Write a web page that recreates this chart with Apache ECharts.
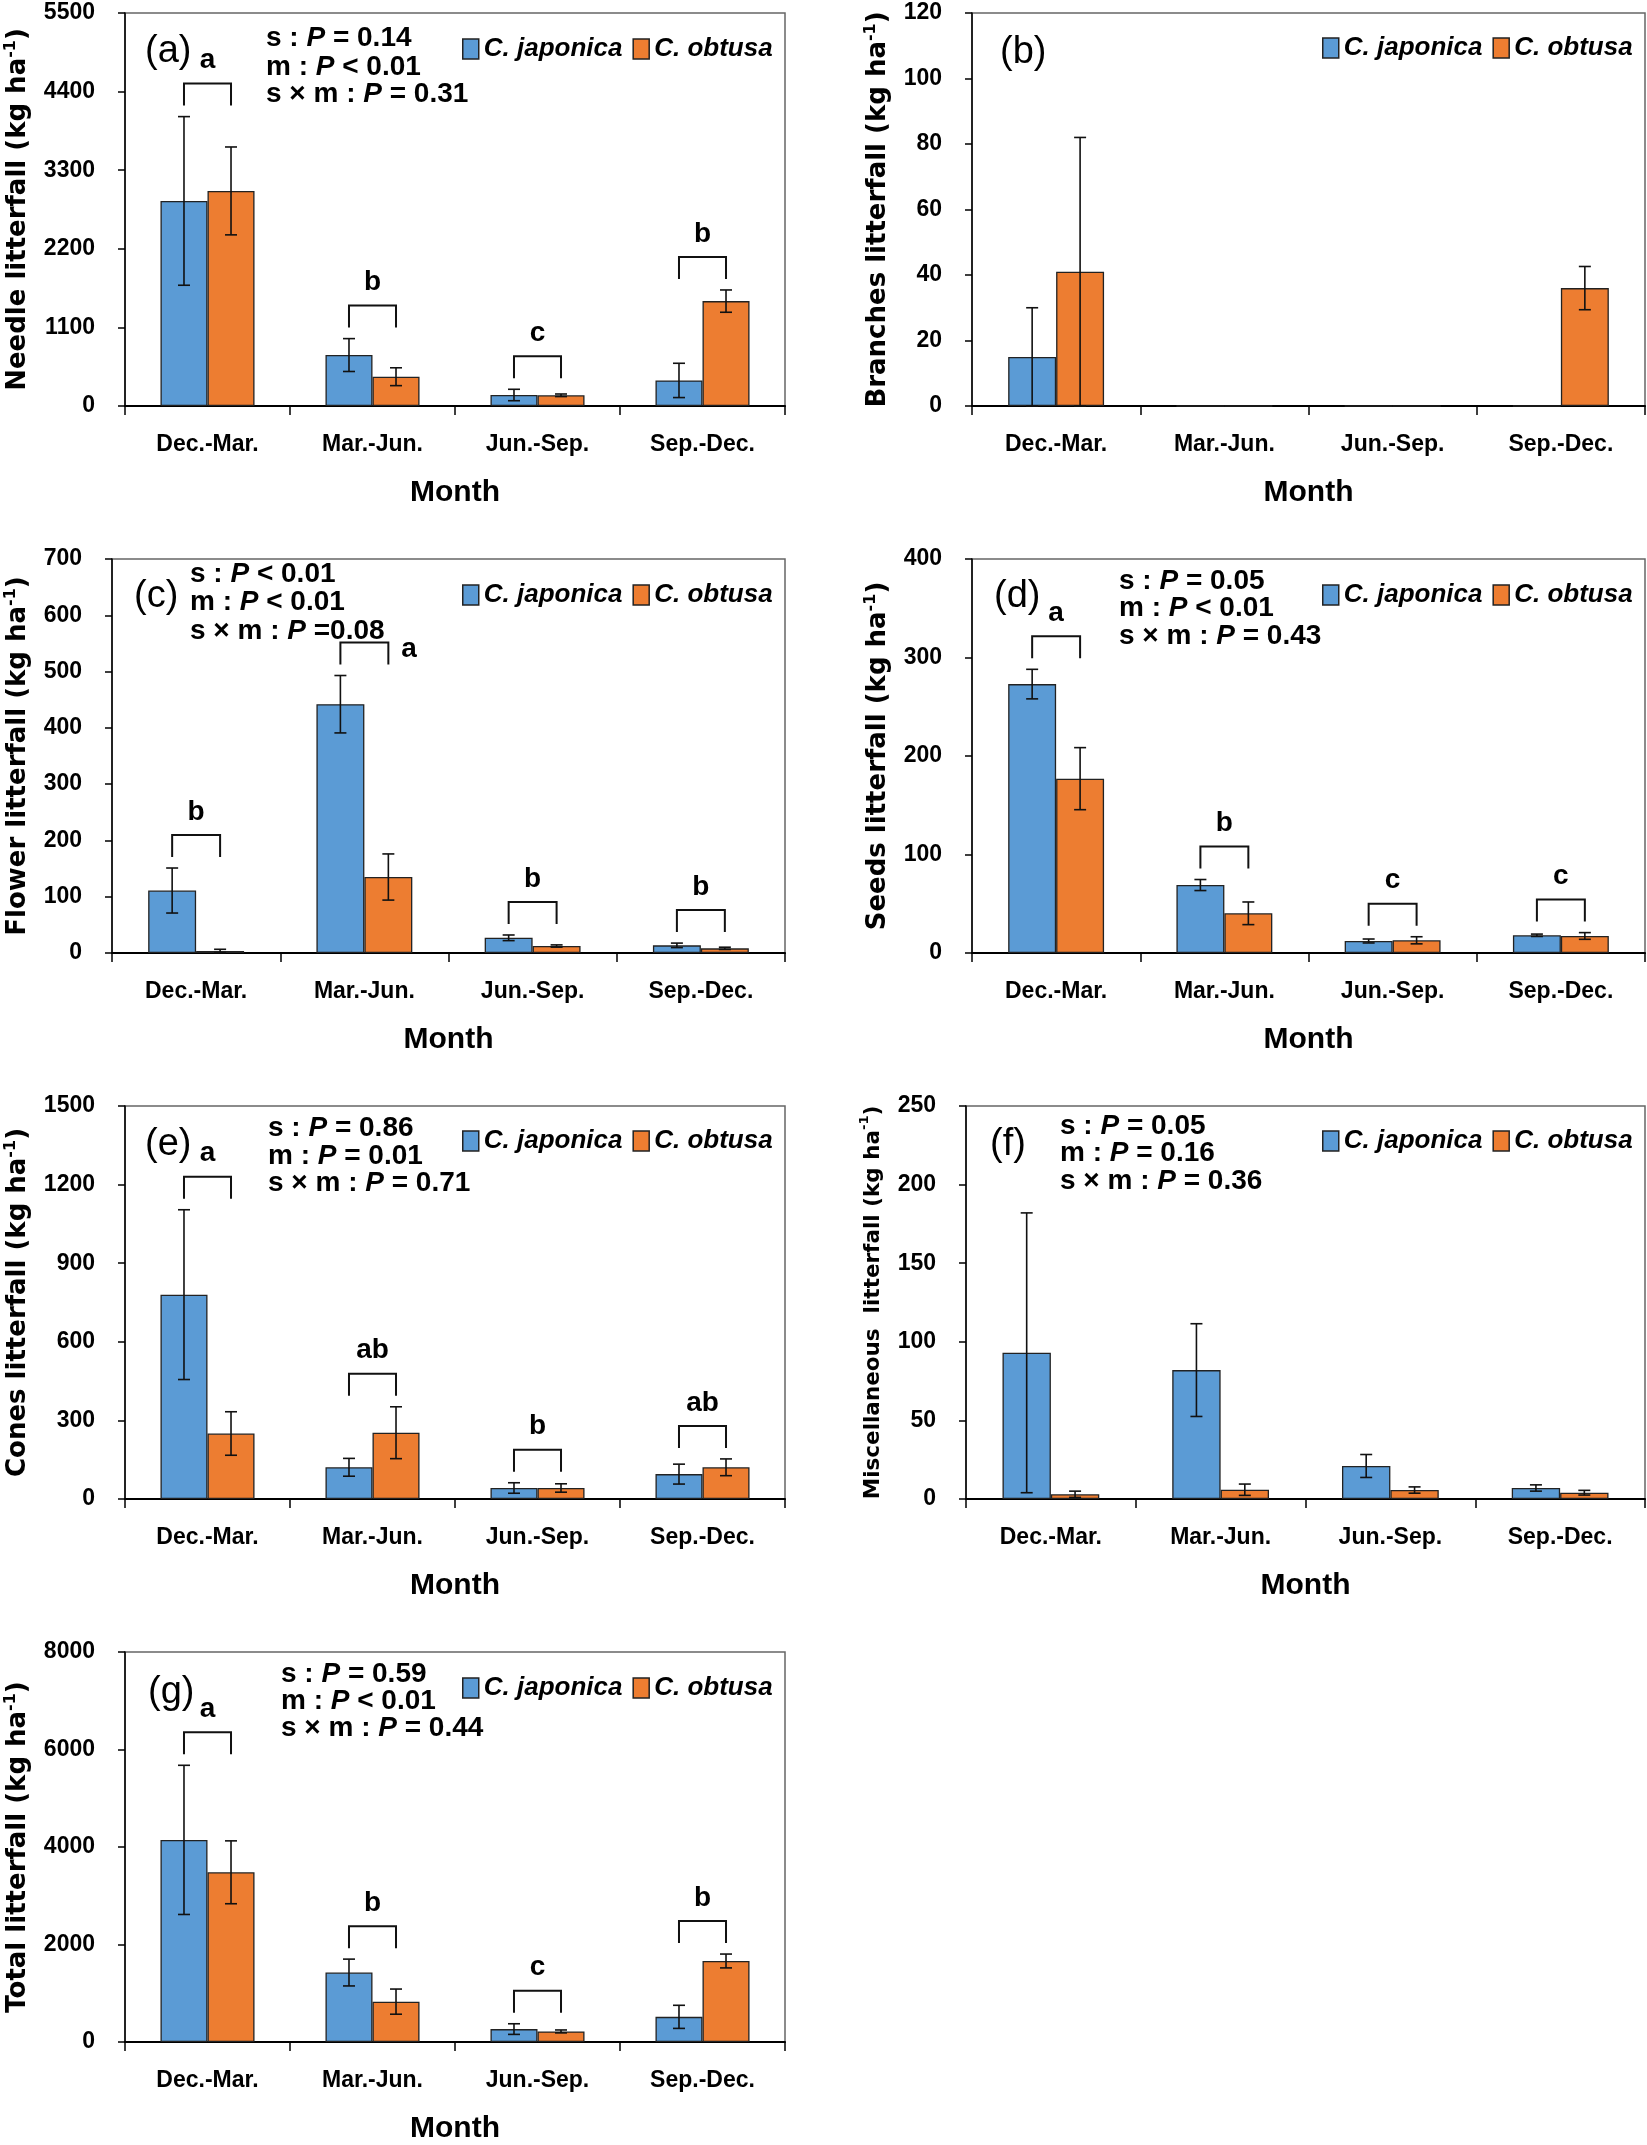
<!DOCTYPE html>
<html><head><meta charset="utf-8">
<script src="https://cdn.jsdelivr.net/npm/echarts@6/dist/echarts.min.js"></script>
<style>html,body{margin:0;padding:0;background:#fff}#c{width:1647px;height:2145px}</style>
</head><body><div id="c"></div>
<script>
// ---------- data ----------
const months = ['Dec.-Mar.', 'Mar.-Jun.', 'Jun.-Sep.', 'Sep.-Dec.'];
const species = ['C. japonica', 'C. obtusa'];

// (a) Needle litterfall
const needleJap = [2870, 713, 154, 358];
const needleJapErr = [1180, 230, 80, 240];
const needleObt = [3010, 410, 150, 1468];
const needleObtErr = [615, 125, 18, 156];
const needleLetters = ['a', 'b', 'c', 'b'];
const needleAxis = [0, 5500, 1100];
const needleStats = ['s : {i|P} = 0.14', 'm : {i|P} < 0.01', 's × m : {i|P} = 0.31'];

// (b) Branches litterfall
const branchJap = [15, 0, 0, 0];
const branchJapErr = [15, 0, 0, 0];
const branchObt = [41, 0, 0, 36];
const branchObtErr = [41, 0, 0, 6.6];
const branchLetters = [];
const branchAxis = [0, 120, 20];
const branchStats = [];

// (c) Flower litterfall
const flowerJap = [111, 442, 27, 13.6];
const flowerJapErr = [40, 51, 5, 4];
const flowerObt = [3.6, 135, 12.4, 8.3];
const flowerObtErr = [3, 41, 2, 2];
const flowerLetters = ['b', 'a', 'b', 'b'];
const flowerAxis = [0, 700, 100];
const flowerStats = ['s : {i|P} < 0.01', 'm : {i|P} < 0.01', 's × m : {i|P} =0.08'];

// (d) Seeds litterfall
const seedJap = [273, 69, 12.2, 18];
const seedJapErr = [15, 5.6, 2, 1.2];
const seedObt = [177, 40.3, 12.9, 17.3];
const seedObtErr = [31.5, 11.5, 3.6, 3.4];
const seedLetters = ['a', 'b', 'c', 'c'];
const seedAxis = [0, 400, 100];
const seedStats = ['s : {i|P} = 0.05', 'm : {i|P} < 0.01', 's × m : {i|P} = 0.43'];

// (e) Cones litterfall
const coneJap = [780, 121, 42, 95];
const coneJapErr = [324, 34, 20, 38];
const coneObt = [250, 253, 42, 121];
const coneObtErr = [83, 99, 16, 32];
const coneLetters = ['a', 'ab', 'b', 'ab'];
const coneAxis = [0, 1500, 300];
const coneStats = ['s : {i|P} = 0.86', 'm : {i|P} = 0.01', 's × m : {i|P} = 0.71'];

// (f) Miscellaneous litterfall
const miscJap = [93, 82, 21, 7];
const miscJapErr = [89, 29.5, 7.3, 2];
const miscObt = [3, 5.9, 5.7, 4];
const miscObtErr = [2, 3.6, 2, 1.5];
const miscLetters = [];
const miscAxis = [0, 250, 50];
const miscStats = ['s : {i|P} = 0.05', 'm : {i|P} = 0.16', 's × m : {i|P} = 0.36'];

// (g) Total litterfall
const totalJap = [4146, 1425, 265, 516];
const totalJapErr = [1530, 275, 109, 237];
const totalObt = [3481, 828, 217, 1662];
const totalObtErr = [645, 258, 30, 142];
const totalLetters = ['a', 'b', 'c', 'b'];
const totalAxis = [0, 8000, 2000];
const totalStats = ['s : {i|P} = 0.59', 'm : {i|P} < 0.01', 's × m : {i|P} = 0.44'];

// ---------- layout ----------
const FONT = '"Liberation Sans", Arial, sans-serif';
const NAMEFONT = '"DejaVu Sans", sans-serif';
const BLUE = '#5B9BD5', ORANGE = '#ED7D31';

const panels = [
  {tag:'(a)', name:'Needle litterfall (kg ha', jap:needleJap, japErr:needleJapErr, obt:needleObt, obtErr:needleObtErr,
   letters:needleLetters, axis:needleAxis, stats:needleStats,
   grid:{left:125, top:13, width:660, height:393}, nameGap:92, nameSize:26,
   tagPos:[145,52], statPos:[266,[38,67,94]], legPos:[462,49]},
  {tag:'(b)', name:'Branches litterfall (kg ha', jap:branchJap, japErr:branchJapErr, obt:branchObt, obtErr:branchObtErr,
   letters:branchLetters, axis:branchAxis, stats:branchStats,
   grid:{left:972, top:13, width:673, height:393}, nameGap:79, nameSize:26,
   tagPos:[1000,53], statPos:[0,[]], legPos:[1322,48]},
  {tag:'(c)', name:'Flower litterfall (kg ha', jap:flowerJap, japErr:flowerJapErr, obt:flowerObt, obtErr:flowerObtErr,
   letters:flowerLetters, letterPos:['top','right','top','top'], axis:flowerAxis, stats:flowerStats,
   grid:{left:112, top:559, width:673, height:394}, nameGap:79, nameSize:26,
   tagPos:[134,597], statPos:[190,[574,602,631]], legPos:[462,595]},
  {tag:'(d)', name:'Seeds litterfall (kg ha', jap:seedJap, japErr:seedJapErr, obt:seedObt, obtErr:seedObtErr,
   letters:seedLetters, axis:seedAxis, stats:seedStats,
   grid:{left:972, top:559, width:673, height:394}, nameGap:79, nameSize:26,
   tagPos:[994,597], statPos:[1119,[581,608,636]], legPos:[1322,595]},
  {tag:'(e)', name:'Cones litterfall (kg ha', jap:coneJap, japErr:coneJapErr, obt:coneObt, obtErr:coneObtErr,
   letters:coneLetters, axis:coneAxis, stats:coneStats,
   grid:{left:125, top:1106, width:660, height:393}, nameGap:92, nameSize:26,
   tagPos:[145,1145], statPos:[268,[1128,1156,1183]], legPos:[462,1141]},
  {tag:'(f)', name:'Miscellaneous  litterfall (kg ha', jap:miscJap, japErr:miscJapErr, obt:miscObt, obtErr:miscObtErr,
   letters:miscLetters, axis:miscAxis, stats:miscStats,
   grid:{left:966, top:1106, width:679, height:393}, nameGap:78, nameSize:21.5,
   tagPos:[990,1145], statPos:[1060,[1126,1153,1181]], legPos:[1322,1141]},
  {tag:'(g)', name:'Total litterfall (kg ha', jap:totalJap, japErr:totalJapErr, obt:totalObt, obtErr:totalObtErr,
   letters:totalLetters, axis:totalAxis, stats:totalStats,
   grid:{left:125, top:1652, width:660, height:390}, nameGap:92, nameSize:26,
   tagPos:[148,1693], statPos:[281,[1674,1701,1728]], legPos:[462,1688]}
];

const BAR_OFF = 0.1425; // half bar width as fraction of category band

const grids = [], xAxes = [], yAxes = [], series = [], legends = [], graphics = [];

panels.forEach((p, i) => {
  grids.push(Object.assign({show:true, borderColor:'#666', borderWidth:1.5, backgroundColor:'transparent'}, p.grid));
  xAxes.push({
    type:'category', gridIndex:i, data:months,
    axisLine:{show:true, lineStyle:{color:'#000', width:2}},
    axisTick:{show:true, length:9, lineStyle:{color:'#000', width:1.5}},
    axisLabel:{margin:27, fontSize:23, fontFamily:FONT, fontWeight:'bold', color:'#000'},
    splitLine:{show:false},
    name:'Month', nameLocation:'middle', nameGap:72,
    nameTextStyle:{fontSize:30, fontWeight:'bold', fontFamily:FONT, color:'#000'}
  });
  yAxes.push({
    type:'value', gridIndex:i, min:p.axis[0], max:p.axis[1], interval:p.axis[2],
    axisLine:{show:true, lineStyle:{color:'#000', width:1.5}},
    axisTick:{show:true, length:7, lineStyle:{color:'#000', width:1.5}},
    axisLabel:{margin:30, fontSize:23, fontFamily:FONT, fontWeight:'bold', color:'#000', formatter:v => String(v)},
    splitLine:{show:false},
    name:'{t|' + p.name + '}{s|-1}{t|)}', nameLocation:'middle', nameRotate:90, nameGap:p.nameGap,
    nameTextStyle:{rich:{
      t:{fontFamily:NAMEFONT, fontWeight:'bold', fontSize:p.nameSize, lineHeight:30, color:'#000'},
      s:{fontFamily:NAMEFONT, fontWeight:'bold', fontSize:Math.round(p.nameSize*0.62), lineHeight:16, verticalAlign:'top', color:'#000'}
    }}
  });
  series.push({type:'bar', name:species[0], xAxisIndex:i, yAxisIndex:i, data:p.jap, barGap:'0%', barCategoryGap:'43%',
    itemStyle:{color:BLUE, borderColor:'#222', borderWidth:1.3}});
  series.push({type:'bar', name:species[1], xAxisIndex:i, yAxisIndex:i, data:p.obt, barGap:'0%', barCategoryGap:'43%',
    itemStyle:{color:ORANGE, borderColor:'#222', borderWidth:1.3}});
  const errData = p.jap.map((v,k) => [k, v, p.japErr[k], -1]).concat(p.obt.map((v,k) => [k, v, p.obtErr[k], 1]));
  series.push({
    type:'custom', xAxisIndex:i, yAxisIndex:i, z:5, silent:true, data:errData,
    renderItem(params, api) {
      const k = api.value(0), m = api.value(1), e = api.value(2), side = api.value(3);
      if (!e) return {type:'group', children:[]};
      const band = api.size([1, 0])[0];
      const hi = api.coord([k, m + e]), lo = api.coord([k, Math.max(m - e, 0)]);
      const x = hi[0] + side * band * BAR_OFF, c = 6;
      const st = {stroke:'#111', lineWidth:1.6};
      return {type:'group', children:[
        {type:'line', shape:{x1:x, y1:hi[1], x2:x, y2:lo[1]}, style:st},
        {type:'line', shape:{x1:x-c, y1:hi[1], x2:x+c, y2:hi[1]}, style:st},
        {type:'line', shape:{x1:x-c, y1:lo[1], x2:x+c, y2:lo[1]}, style:st}
      ]};
    }
  });
  if (p.letters.length) {
    const brData = months.map((_, k) => [k, Math.max(p.jap[k] + p.japErr[k], p.obt[k] + p.obtErr[k])]);
    series.push({
      type:'custom', xAxisIndex:i, yAxisIndex:i, z:6, silent:true, data:brData,
      renderItem(params, api) {
        const k = api.value(0), top = api.value(1);
        const c = api.coord([k, top]); const band = api.size([1, 0])[0];
        const x1 = c[0] - band * BAR_OFF, x2 = c[0] + band * BAR_OFF;
        const yb = c[1] - 11, yt = yb - 22;
        const letter = p.letters[params.dataIndex];
        const pos = (p.letterPos || [])[params.dataIndex] || 'top';
        const tx = pos === 'right' ? x2 + 13 : c[0];
        const ty = pos === 'right' ? yt + 7 : yt - 23;
        return {type:'group', children:[
          {type:'polyline', shape:{points:[[x1,yb],[x1,yt],[x2,yt],[x2,yb]]}, style:{stroke:'#111', lineWidth:2, fill:null}},
          {type:'text', style:{text:letter, x:tx, y:ty, align:pos === 'right' ? 'left' : 'center', verticalAlign:'middle',
            font:'bold 28px ' + FONT, fill:'#000'}}
        ]};
      }
    });
  }
  legends.push({
    left:p.legPos[0], top:p.legPos[1] - 15, orient:'horizontal', padding:0, itemWidth:16, itemHeight:20, itemGap:10,
    data:species, selectedMode:false, icon:'rect',
    itemStyle:{borderColor:'#222', borderWidth:1.5},
    textStyle:{fontFamily:FONT, fontSize:26, fontStyle:'italic', fontWeight:'bold', color:'#000', lineHeight:30}
  });
  graphics.push({type:'text', x:p.tagPos[0], y:p.tagPos[1],
    style:{text:p.tag, font:'normal 38px ' + FONT, fill:'#000', verticalAlign:'middle'}});
  p.stats.forEach((s, j) => {
    graphics.push({type:'text', x:p.statPos[0], y:p.statPos[1][j],
      style:{text:s, font:'bold 28px ' + FONT, fill:'#000', verticalAlign:'middle',
        rich:{i:{fontStyle:'italic', fontWeight:'bold', fontSize:28, fontFamily:FONT, fill:'#000'}}}});
  });
});

const chart = echarts.init(document.getElementById('c'), null, {renderer:'canvas'});
chart.setOption({
  animation:false, backgroundColor:'#fff',
  grid:grids, xAxis:xAxes, yAxis:yAxes, series:series, legend:legends, graphic:graphics
});
</script></body></html>
